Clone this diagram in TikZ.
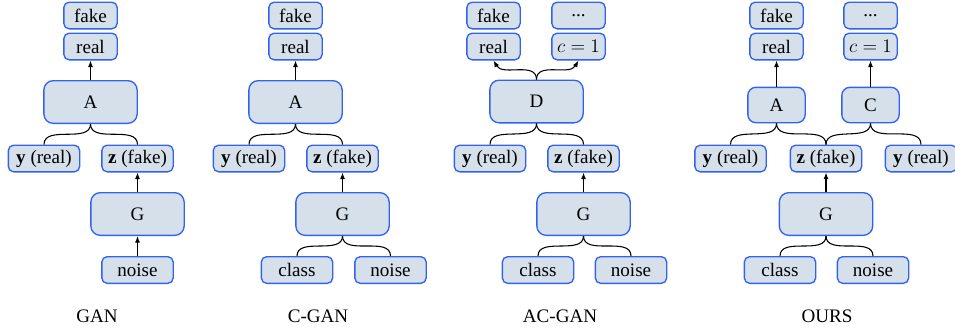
\documentclass[tikz,border=0pt]{standalone}
\usepackage{fontspec}
\setmainfont{Liberation Serif}
\usetikzlibrary{arrows.meta}
\definecolor{boxfill}{HTML}{D6E0EA}
\definecolor{boxdraw}{HTML}{3262F2}
\newcommand{\diagfont}{\rmfamily\fontsize{14.3pt}{16pt}\selectfont}
\begin{document}
\begin{tikzpicture}[x=0.75pt,y=-0.75pt,
 every node/.style={font=\diagfont},
 nbox/.style={draw=boxdraw,fill=boxfill,line width=1pt,inner sep=0pt,align=center,font=\diagfont},
 sbox/.style={nbox,rounded corners=4pt,minimum width=40pt,minimum height=20pt},
 mbox/.style={nbox,rounded corners=4pt,minimum width=53.5pt,minimum height=20pt},
 bigbox/.style={nbox,rounded corners=7pt,minimum width=70pt,minimum height=32pt},
 obox/.style={nbox,rounded corners=6pt,minimum width=43pt,minimum height=26.5pt},
 arr/.style={-{Latex[length=5pt,width=3.8pt]},line width=0.8pt},
 cur/.style={line width=0.8pt}
]
\useasboundingbox (0,0) rectangle (955,330);

% GAN
\node[sbox] (gfake) at (90.5,15.5) {fake};
\node[sbox] (greal) at (90.5,46.5) {real};
\node[bigbox] (gA) at (90.5,102) {A};
\node[mbox] (gy) at (44,158.5) {\textbf{y} (real)};
\node[mbox] (gz) at (137.5,158.5) {\textbf{z} (fake)};
\node[bigbox] (gG) at (137.5,214) {G};
\node[mbox] (gn) at (137.5,270) {noise};
\node (glab) at (97,316) {GAN};
\draw[arr] (gA) -- (greal);
\draw[arr] (gG) -- (gz);
\draw[arr] (gn) -- (gG);
\draw[cur] (gA.south) to[out=-90,in=90] (gy.north);
\draw[cur] (gA.south) to[out=-90,in=90] (gz.north);

% C-GAN
\node[sbox] (cfake) at (295.5,15.5) {fake};
\node[sbox] (creal) at (295.5,46.5) {real};
\node[bigbox] (cA) at (295.5,102) {A};
\node[mbox] (cy) at (249,158.5) {\textbf{y} (real)};
\node[mbox] (cz) at (342.5,158.5) {\textbf{z} (fake)};
\node[bigbox] (cG) at (342.5,214) {G};
\node[mbox] (ccl) at (297,270) {class};
\node[mbox] (cn) at (390.5,270) {noise};
\node (clab) at (318,316) {C-GAN};
\draw[arr] (cA) -- (creal);
\draw[arr] (cG) -- (cz);
\draw[cur] (cA.south) to[out=-90,in=90] (cy.north);
\draw[cur] (cA.south) to[out=-90,in=90] (cz.north);
\draw[cur] (cG.south) to[out=-90,in=90] (ccl.north);
\draw[cur] (cG.south) to[out=-90,in=90] (cn.north);

% AC-GAN
\node[sbox] (afake) at (493.5,15.5) {fake};
\node[sbox] (areal) at (493.5,46.5) {real};
\node[sbox] (adots) at (578.5,15.5) {...};
\node[sbox] (ac) at (578.5,46.5) {$c=1$};
\node[bigbox] (aD) at (536.5,101.5) {D};
\node[mbox] (ay) at (490,158.5) {\textbf{y} (real)};
\node[mbox] (az) at (583.5,158.5) {\textbf{z} (fake)};
\node[bigbox] (aG) at (583.5,214) {G};
\node[mbox] (acl) at (538,270) {class};
\node[mbox] (an) at (631,270) {noise};
\node (alab) at (560,316) {AC-GAN};
\draw[arr] (aD.north) to[out=90,in=-60] (areal.south);
\draw[arr] (aD.north) to[out=90,in=-120] (ac.south);
\draw[arr] (aG) -- (az);
\draw[cur] (aD.south) to[out=-90,in=90] (ay.north);
\draw[cur] (aD.south) to[out=-90,in=90] (az.north);
\draw[cur] (aG.south) to[out=-90,in=90] (acl.north);
\draw[cur] (aG.south) to[out=-90,in=90] (an.north);

% OURS
\node[sbox] (ofake) at (776.5,15.5) {fake};
\node[sbox] (oreal) at (776.5,46.5) {real};
\node[sbox] (odots) at (870.5,15.5) {...};
\node[sbox] (oc) at (870.5,46.5) {$c=1$};
\node[obox] (oA) at (776.5,105) {A};
\node[obox] (oC) at (870.5,105) {C};
\node[mbox] (oy) at (730.5,158.5) {\textbf{y} (real)};
\node[mbox] (oz) at (826,158.5) {\textbf{z} (fake)};
\node[mbox] (oyr) at (921,158.5) {\textbf{y} (real)};
\node[bigbox] (oG) at (826,214) {G};
\node[mbox] (ocl) at (780,270) {class};
\node[mbox] (on) at (873,270) {noise};
\node (olab) at (827,316) {OURS};
\draw[arr] (oA) -- (oreal);
\draw[arr] (oC) -- (oc);
\draw[arr] (oG) -- (oz);
\draw[cur] (oA.south) to[out=-90,in=90] (oy.north);
\draw[cur] (oA.south) to[out=-90,in=90] (oz.north);
\draw[cur] (oC.south) to[out=-90,in=90] (oz.north);
\draw[cur] (oC.south) to[out=-90,in=90] (oyr.north);
\draw[cur] (oG.south) to[out=-90,in=90] (ocl.north);
\draw[cur] (oG.south) to[out=-90,in=90] (on.north);
\end{tikzpicture}
\end{document}
